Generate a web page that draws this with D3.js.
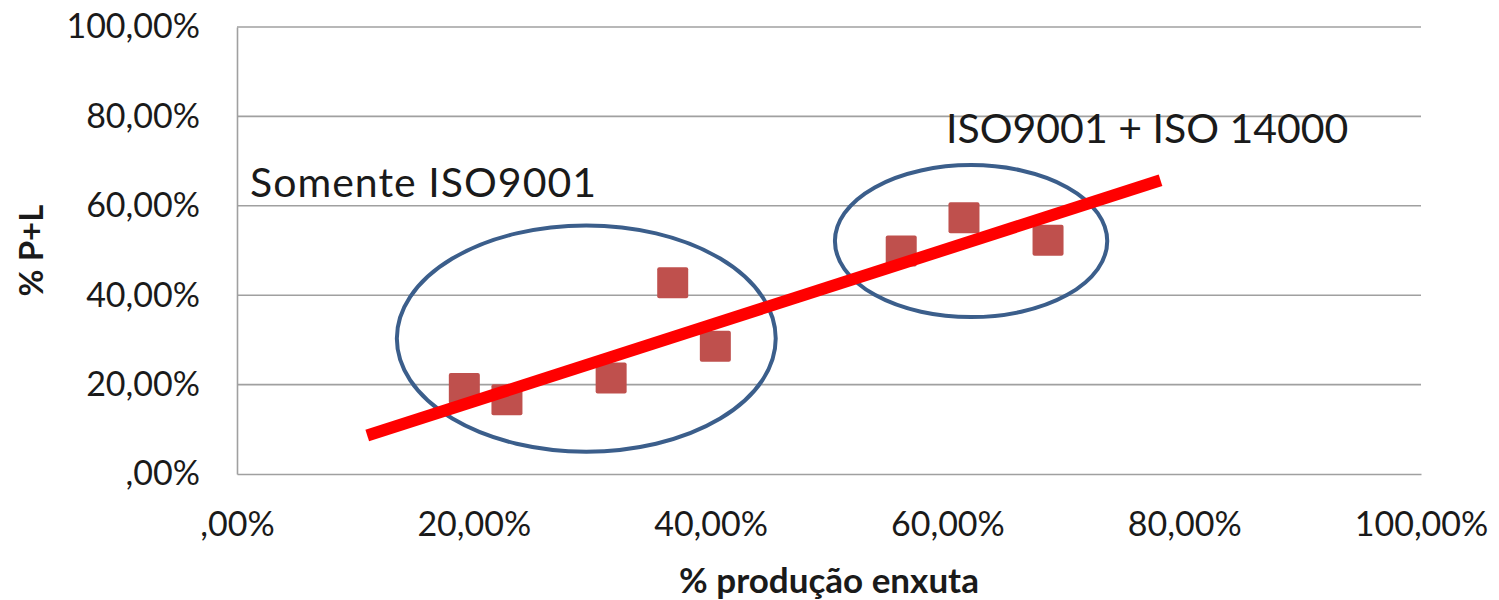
<!DOCTYPE html>
<html>
<head>
    <title>% P+L x % produção enxuta</title>
    <script src="https://d3js.org/d3.v7.min.js"></script>
    <style>
        body { margin: 0; background: #fff; }
        text { font-family: Lato, "Open Sans", sans-serif; fill: #1a1a1a; }
    </style>
</head>
<body>
    <div id="chart"></div>

    <script>
        // data (fractions, 0..1)
        var producaoEnxuta = [0.192, 0.228, 0.316, 0.368, 0.404, 0.561, 0.614, 0.685];
        var pl             = [0.191, 0.166, 0.215, 0.428, 0.286, 0.499, 0.573, 0.523];

        var tickValues = [0, 0.2, 0.4, 0.6, 0.8, 1.0];
        var tickLabels = [",00%", "20,00%", "40,00%", "60,00%", "80,00%", "100,00%"];

        // hand-drawn trend line (start, end)
        var trendX = [0.110, 0.780];
        var trendY = [0.086, 0.657];

        // group ellipses: centre x, centre y, radius x, radius y
        var groupNames = ["Somente ISO9001", "ISO9001 + ISO 14000"];
        var groupCx = [0.295, 0.620];
        var groupCy = [0.303, 0.521];
        var groupRx = [0.160, 0.115];
        var groupRy = [0.253, 0.170];

        var margin = {top: 27, right: 78, bottom: 126, left: 237},
            width = 1499 - margin.left - margin.right,
            height = 600 - margin.top - margin.bottom;

        var svg = d3.select("#chart")
                    .append("svg")
                    .attr("width", 1499)
                    .attr("height", 600)
                    .append("g")
                    .attr("transform", "translate(" + margin.left + "," + margin.top + ")");

        var x = d3.scaleLinear().domain([0, 1]).range([0, width]);
        var y = d3.scaleLinear().domain([0, 1]).range([height, 0]);

        // horizontal gridlines
        svg.append("g")
           .selectAll("line")
           .data(tickValues.slice(1))
           .enter()
           .append("line")
           .attr("x1", 0)
           .attr("x2", width)
           .attr("y1", function(d) { return y(d); })
           .attr("y2", function(d) { return y(d); })
           .style("stroke", "#a0a0a0")
           .style("stroke-width", 1.6);

        // axes
        var xAxis = d3.axisBottom(x)
                      .tickValues(tickValues)
                      .tickSize(0)
                      .tickPadding(38)
                      .tickFormat(function(d, i) { return tickLabels[i]; });

        var gx = svg.append("g")
           .attr("transform", "translate(0," + height + ")")
           .call(xAxis);

        var yAxis = d3.axisLeft(y)
                      .tickValues(tickValues)
                      .tickSize(0)
                      .tickPadding(37)
                      .tickFormat(function(d, i) { return tickLabels[i]; });

        var gy = svg.append("g")
           .call(yAxis);

        [gx, gy].forEach(function(g) {
            g.select(".domain").style("stroke", "#a0a0a0").style("stroke-width", 1.6);
            g.selectAll("text")
             .style("font-family", "Lato, sans-serif")
             .style("font-size", "34px")
             .style("fill", "#1a1a1a");
        });

        // axis titles
        svg.append("text")
           .attr("x", width / 2)
           .attr("y", height + 119)
           .style("text-anchor", "middle")
           .style("font-weight", "bold")
           .style("font-size", "35px")
           .text("% produção enxuta");

        svg.append("text")
           .attr("transform", "rotate(-90)")
           .attr("x", 0 - (height / 2))
           .attr("y", 0 - margin.left + 43)
           .style("text-anchor", "middle")
           .style("font-weight", "bold")
           .style("font-size", "33px")
           .text("% P+L");

        // data points
        var size = 31;
        svg.append("g")
           .selectAll("rect")
           .data(producaoEnxuta)
           .enter()
           .append("rect")
           .attr("x", function(d) { return x(d) - size / 2; })
           .attr("y", function(d, i) { return y(pl[i]) - size / 2; })
           .attr("width", size)
           .attr("height", size)
           .attr("rx", 2)
           .style("fill", "#bf504d");

        // group ellipses
        svg.append("g")
           .selectAll("ellipse")
           .data(groupCx)
           .enter()
           .append("ellipse")
           .attr("cx", function(d) { return x(d); })
           .attr("cy", function(d, i) { return y(groupCy[i]); })
           .attr("rx", function(d, i) { return x(groupRx[i]) - x(0); })
           .attr("ry", function(d, i) { return y(0) - y(groupRy[i]); })
           .style("fill", "none")
           .style("stroke", "#3b5e8b")
           .style("stroke-width", 4);

        // trend line
        svg.append("line")
           .attr("x1", x(trendX[0]))
           .attr("y1", y(trendY[0]))
           .attr("x2", x(trendX[1]))
           .attr("y2", y(trendY[1]))
           .style("stroke", "#ff0000")
           .style("stroke-width", 12);

        // group labels
        svg.append("text")
           .attr("x", 13)
           .attr("y", 170)
           .style("font-size", "41px")
           .attr("textLength", 346)
           .text(groupNames[0]);

        svg.append("text")
           .attr("x", 709)
           .attr("y", 116)
           .style("font-size", "41px")
           .text(groupNames[1]);
    </script>
</body>
</html>
